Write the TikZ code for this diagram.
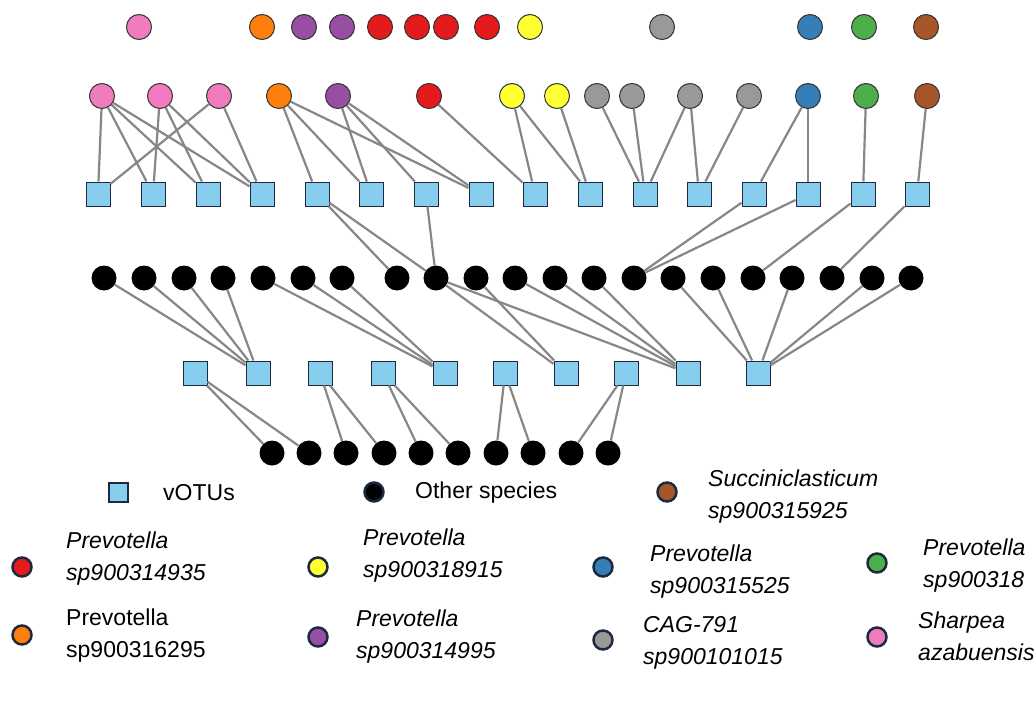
\documentclass[tikz,border=0pt]{standalone}
\usepackage{fontspec}
\setmainfont{Liberation Sans}
\usetikzlibrary{positioning}
\definecolor{cpink}{HTML}{F07CBE}
\definecolor{corange}{HTML}{FF7F0E}
\definecolor{cpurple}{HTML}{984EA3}
\definecolor{cred}{HTML}{E41A1C}
\definecolor{cyellow}{HTML}{FFFF33}
\definecolor{cgray}{HTML}{999999}
\definecolor{cblue}{HTML}{377EB8}
\definecolor{cgreen}{HTML}{4DAF4A}
\definecolor{cbrown}{HTML}{A65628}
\definecolor{votu}{HTML}{87CEEE}
\definecolor{navy}{HTML}{1B2A40}
\begin{document}
\begin{tikzpicture}[x=1pt,y=-1pt]
  \tikzstyle{host}=[circle,draw=black!80,line width=1pt,minimum size=25pt,inner sep=0pt]
  \tikzstyle{phage}=[rectangle,draw=navy,line width=1pt,fill=votu,minimum size=24pt,inner sep=0pt]
  \tikzstyle{other}=[circle,fill=black,minimum size=25pt,inner sep=0pt]
  \tikzstyle{key}=[circle,draw=navy,line width=2.5pt,minimum size=19pt,inner sep=0pt]
  \tikzstyle{link}=[draw=black!47,line width=2.2pt]
  \tikzstyle{txt}=[anchor=west,align=left,font=\fontsize{23}{32}\selectfont,inner sep=0pt]
  \clip (0,0) rectangle (1035,706);
  \useasboundingbox (0,0) rectangle (1035,706);

  % top row of hosts
  \foreach \x/\c [count=\i] in {139/cpink,262/corange,304/cpurple,342/cpurple,380/cred,417/cred,446/cred,487/cred,530/cyellow,662/cgray,810/cblue,864/cgreen,926/cbrown}
    \node[host,fill=\c] (t\i) at (\x,27) {};

  % hosts with links
  \foreach \x/\c [count=\i] in {102/cpink,160/cpink,219/cpink,279/corange,338/cpurple,429/cred,512/cyellow,557/cyellow,597/cgray,632/cgray,690/cgray,749/cgray,808/cblue,866/cgreen,927/cbrown}
    \node[host,fill=\c] (h\i) at (\x,96) {};

  % vOTUs, upper row
  \foreach \x [count=\i] in {98,153,208,262,317,371,426,481,535,590,645,699,754,808,863,917}
    \node[phage] (v\i) at (\x,194) {};

  % other species, upper row
  \foreach \x [count=\i] in {104,144,184,223,263,303,342,397,436,476,515,555,594,634,673,713,753,792,832,872,911}
    \node[other] (o\i) at (\x,278) {};

  % vOTUs, lower row
  \foreach \x [count=\i] in {195,258,320,383,445,505,566,626,688,758}
    \node[phage] (w\i) at (\x,373) {};

  % other species, lower row
  \foreach \x [count=\i] in {272,309,346,384,421,458,496,533,571,608}
    \node[other] (b\i) at (\x,453) {};

  \begin{scope}[on background layer/.style={}]
  \foreach \a/\b in {h1/v1,h1/v2,h1/v3,h1/v4,h2/v2,h2/v3,h2/v4,h3/v1,h3/v4,
      h4/v5,h4/v6,h4/v8,h5/v6,h5/v7,h5/v8,h6/v9,h7/v9,h7/v10,h8/v10,
      h9/v11,h10/v11,h11/v11,h11/v12,h12/v12,h13/v13,h13/v14,h14/v15,h15/v16,
      v5/o8,v5/o9,v7/o9,v13/o14,v14/o14,v15/o17,v16/o19,
      o1/w2,o2/w2,o3/w2,o4/w2,o5/w5,o6/w5,o7/w5,o9/w7,o9/w9,o10/w7,
      o11/w9,o12/w9,o13/w9,o15/w10,o16/w10,o18/w10,o20/w10,o21/w10,
      w1/b1,w1/b2,w3/b3,w3/b4,w4/b5,w4/b6,w6/b7,w6/b8,w8/b9,w8/b10}
    \path[link] (\a) -- (\b);
  \end{scope}

  % legend
  \node[phage,minimum size=19pt,line width=2pt] (lv) at (118,492) {};
  \node[txt] (lvt) at (163,493) {vOTUs};
  \node[key,fill=black] (lo) at (374,492) {};
  \node[txt] (lot) at (415,493) {Other species};
  \node[key,fill=cbrown] (l1) at (667,492) {};
  \node[txt] (l1t) at (708,497) {\itshape Succiniclasticum\\\itshape sp900315925};
  \node[key,fill=cred] (l2) at (22,567) {};
  \node[txt] (l2t) at (66,559) {\itshape Prevotella\\\itshape sp900314935};
  \node[key,fill=cyellow] (l3) at (318,567) {};
  \node[txt] (l3t) at (363,556) {\itshape Prevotella\\\itshape sp900318915};
  \node[key,fill=cblue] (l4) at (603,567) {};
  \node[txt] (l4t) at (650,572) {\itshape Prevotella\\\itshape sp900315525};
  \node[key,fill=cgreen] (l5) at (877,563) {};
  \node[txt] (l5t) at (923,566) {\itshape Prevotella\\\itshape sp900318};
  \node[key,fill=corange] (l6) at (22,635) {};
  \node[txt] (l6t) at (66,636) {Prevotella\\sp900316295};
  \node[key,fill=cpurple] (l7) at (318,637) {};
  \node[txt] (l7t) at (356,637) {\itshape Prevotella\\\itshape sp900314995};
  \node[key,fill=cgray] (l8) at (603,640) {};
  \node[txt] (l8t) at (643,643) {\itshape CAG-791\\\itshape sp900101015};
  \node[key,fill=cpink] (l9) at (877,637) {};
  \node[txt] (l9t) at (918,636) {\itshape Sharpea\\\itshape azabuensis};
\end{tikzpicture}
\end{document}
